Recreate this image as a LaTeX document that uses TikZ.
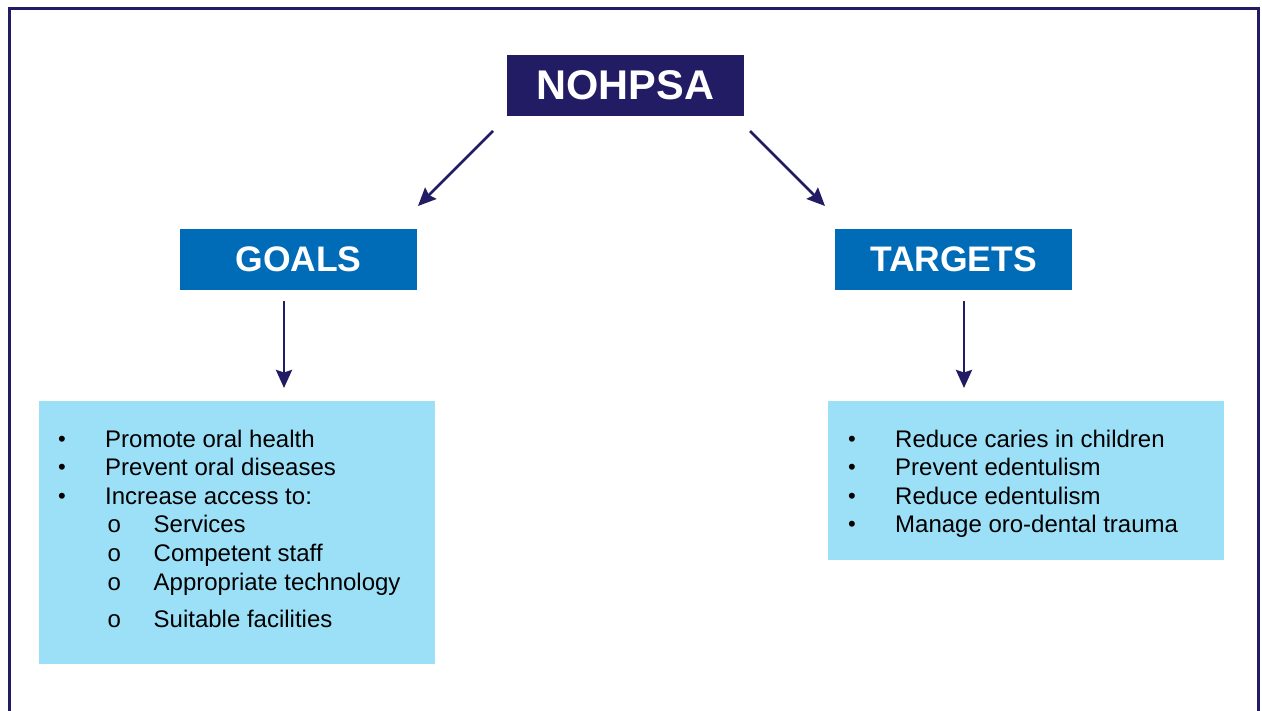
\documentclass[tikz,border=0pt]{standalone}
\usepackage{fontspec}
\setmainfont{Liberation Sans}
\usetikzlibrary{arrows.meta}
\definecolor{navy}{HTML}{221C65}
\definecolor{midblue}{HTML}{006BB6}
\definecolor{lightblue}{HTML}{9CE0F8}
\tikzset{
  x=1pt,y=-1pt,
  topbox/.style={fill=navy,text=white,inner sep=0,minimum width=237pt,minimum height=61pt,font=\fontsize{41.5}{44}\selectfont\bfseries},
  headbox/.style={fill=midblue,text=white,inner sep=0,minimum width=237pt,minimum height=61pt,font=\fontsize{35.5}{40}\selectfont\bfseries},
  listbox/.style={fill=lightblue,inner sep=0,minimum width=396pt},
  item/.style={anchor=base west,inner sep=0,font=\fontsize{24}{27}\selectfont},
  dot/.style={anchor=center,inner sep=0,font=\fontsize{22}{24}\selectfont},
  conn/.style={draw=navy,line width=2.6pt,-{Stealth[length=18pt,width=16pt,inset=2.5pt]}},
}
\begin{document}
\begin{tikzpicture}
\useasboundingbox (0,0) rectangle (1262,711);
% frame
\draw[navy,line width=3pt] (9,711) -- (9,9) -- (1258,9) -- (1258,711);
% header nodes
\node[topbox] (nohpsa) at (625.5,85.5) {NOHPSA};
\node[headbox] (goals) at (298.5,259.5) {GOALS};
\node[headbox] (targets) at (953.5,259.5) {TARGETS};
% list boxes
\node[listbox,minimum height=263pt] (glist) at (237,532.5) {};
\node[listbox,minimum height=159pt] (tlist) at (1026,480.5) {};
% connectors
\coordinate (a1s) at (493,131); \coordinate (a1e) at (418,206);
\coordinate (a2s) at (750,131); \coordinate (a2e) at (825,206);
\coordinate (a3s) at (284,301); \coordinate (a3e) at (284,388);
\coordinate (a4s) at (964,301); \coordinate (a4e) at (964,388);
\draw[conn] (a1s) -- (a1e);
\draw[conn] (a2s) -- (a2e);
\draw[conn] (a3s) -- (a3e);
\draw[conn] (a4s) -- (a4e);
% goals items
\node[dot] (gb1) at (62,441) {•};
\node[item] (g1) at (105,447) {Promote oral health};
\node[dot] (gb2) at (62,469.5) {•};
\node[item] (g2) at (105,475.5) {Prevent oral diseases};
\node[dot] (gb3) at (62,498) {•};
\node[item] (g3) at (105,504) {Increase access to:};
\node[item] (go4) at (107.5,532.5) {o};
\node[item] (g4) at (153.5,532.5) {Services};
\node[item] (go5) at (107.5,561) {o};
\node[item] (g5) at (153.5,561) {Competent staff};
\node[item] (go6) at (107.5,590) {o};
\node[item] (g6) at (153.5,590) {Appropriate technology};
\node[item] (go7) at (107.5,627) {o};
\node[item] (g7) at (153.5,627) {Suitable facilities};
% targets items
\node[dot] (tb1) at (852,441) {•};
\node[item] (t1) at (895,447) {Reduce caries in children};
\node[dot] (tb2) at (852,469.5) {•};
\node[item] (t2) at (895,475.5) {Prevent edentulism};
\node[dot] (tb3) at (852,498) {•};
\node[item] (t3) at (895,504) {Reduce edentulism};
\node[dot] (tb4) at (852,526.5) {•};
\node[item] (t4) at (895,532.5) {Manage oro-dental trauma};
\end{tikzpicture}
\end{document}
